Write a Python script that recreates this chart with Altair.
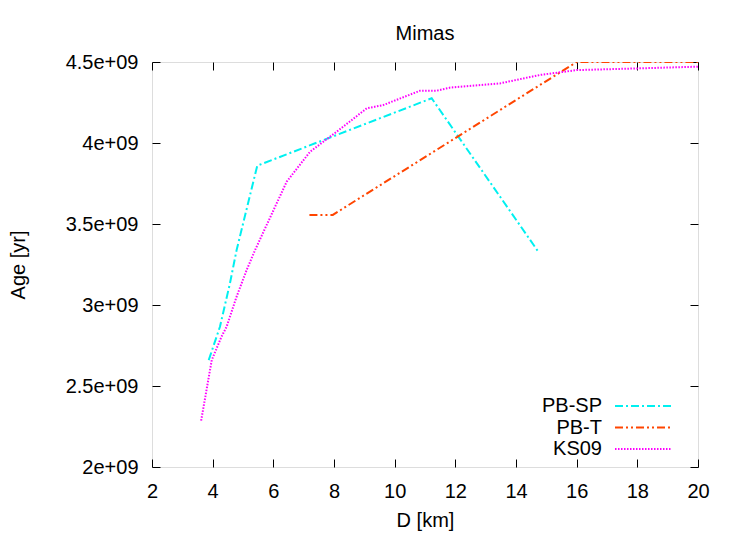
import altair as alt
import pandas as pd

# ---- data ----
pbsp_d = [3.87, 4.24, 4.57, 4.79, 5.47, 11.22, 14.72]
pbsp_age = [2.66e9, 2.866e9, 3.134e9, 3.34e9, 3.86e9, 4.276e9, 3.333e9]

pbt_d = [7.19, 7.96, 16.0, 20.0]
pbt_age = [3.556e9, 3.556e9, 4.5e9, 4.5e9]

ks09_d = [3.62, 3.97, 4.29, 4.46, 4.79, 5.12, 5.40, 6.44, 7.21, 8.09, 9.08,
          9.62, 10.84, 11.39, 11.83, 13.47, 14.79, 16.0, 18.09, 20.0]
ks09_age = [2.286e9, 2.66e9, 2.804e9, 2.866e9, 3.052e9, 3.216e9, 3.34e9,
            3.761e9, 3.946e9, 4.07e9, 4.214e9, 4.234e9, 4.323e9, 4.323e9,
            4.342e9, 4.368e9, 4.42e9, 4.45e9, 4.461e9, 4.471e9]

series_names = ["PB-SP", "PB-T", "KS09"]
series_colors = ["#00f0f0", "#ff4500", "#ff00ff"]
series_dash = [[8, 3, 2, 3], [8, 3, 2, 3, 2, 3], [1.5, 1.5]]

x_ticks = [2, 4, 6, 8, 10, 12, 14, 16, 18, 20]
y_ticks = [2.0e9, 2.5e9, 3.0e9, 3.5e9, 4.0e9, 4.5e9]

rows = []
for name, xs, ys in [("PB-SP", pbsp_d, pbsp_age), ("PB-T", pbt_d, pbt_age), ("KS09", ks09_d, ks09_age)]:
    for i, (a, b) in enumerate(zip(xs, ys)):
        rows.append({"series": name, "D": a, "Age": b, "order": i})
df = pd.DataFrame(rows)

FONT = "Liberation Sans"

xscale = alt.Scale(domain=[2, 20], nice=False, zero=False)
yscale = alt.Scale(domain=[2.0e9, 4.5e9], nice=False, zero=False)

x_bottom = alt.Axis(values=x_ticks, grid=False, domain=False, tickSize=8, offset=-8,
                    labelPadding=14, title="D [km]", titlePadding=9, orient="bottom",
                    labelFontSize=20, titleFontSize=20, labelFont=FONT, titleFont=FONT,
                    titleFontWeight="normal", labelColor="black", titleColor="black",
                    tickColor="black", labelFlush=False)
y_left = alt.Axis(values=y_ticks, grid=False, domain=False, tickSize=8, offset=-8,
                  labelPadding=14, title="Age [yr]", titlePadding=37, orient="left",
                  labelExpr="replace(replace(format(datum.value, '.1e'), /\\.0e/, 'e'), /e\\+(\\d)$/, 'e+0$1')",
                  labelFontSize=20, titleFontSize=20, labelFont=FONT, titleFont=FONT,
                  titleFontWeight="normal", labelColor="black", titleColor="black",
                  tickColor="black")
x_top = alt.Axis(values=x_ticks, grid=False, domain=False, tickSize=8, offset=-8,
                 labels=False, title=None, orient="top", tickColor="black")
y_right = alt.Axis(values=y_ticks, grid=False, domain=False, tickSize=8, offset=-8,
                   labels=False, title=None, orient="right", tickColor="black")

lines = alt.Chart(df).mark_line(strokeWidth=2, clip=True).encode(
    x=alt.X("D:Q", scale=xscale, axis=x_bottom),
    y=alt.Y("Age:Q", scale=yscale, axis=y_left),
    color=alt.Color("series:N", scale=alt.Scale(domain=series_names, range=series_colors),
                    sort=series_names,
                    legend=alt.Legend(title=None, orient="none", legendX=480, legendY=333,
                                      symbolType="M-2.8,0H2.8", symbolSize=400,
                                      symbolStrokeWidth=2, labelAlign="right",
                                      labelOffset={"expr": "-52"}, labelFontSize=20,
                                      labelFont=FONT, labelColor="black", rowPadding=0.5,
                                      padding=0, labelLimit=200)),
    strokeDash=alt.StrokeDash("series:N", scale=alt.Scale(domain=series_names, range=series_dash),
                              sort=series_names, legend=None),
    order="order:Q",
)

mirror = alt.Chart(df).mark_line(opacity=0).encode(
    x=alt.X("D:Q", scale=xscale, axis=x_top),
    y=alt.Y("Age:Q", scale=yscale, axis=y_right),
    detail="series:N",
)

chart = alt.layer(lines, mirror).resolve_axis(x="independent", y="independent").properties(
    width=546, height=405,
    title=alt.TitleParams("Mimas", fontSize=20, font=FONT, fontWeight="normal",
                          color="black", offset=8, anchor="middle", frame="group"),
    autosize=alt.AutoSizeParams(type="none"),
    padding={"left": 144, "top": 54, "right": 41, "bottom": 67},
).configure_view(stroke="black", strokeWidth=1.2).configure(background="white")

chart.save("out.html", embed_options={"renderer": "svg", "actions": False})
